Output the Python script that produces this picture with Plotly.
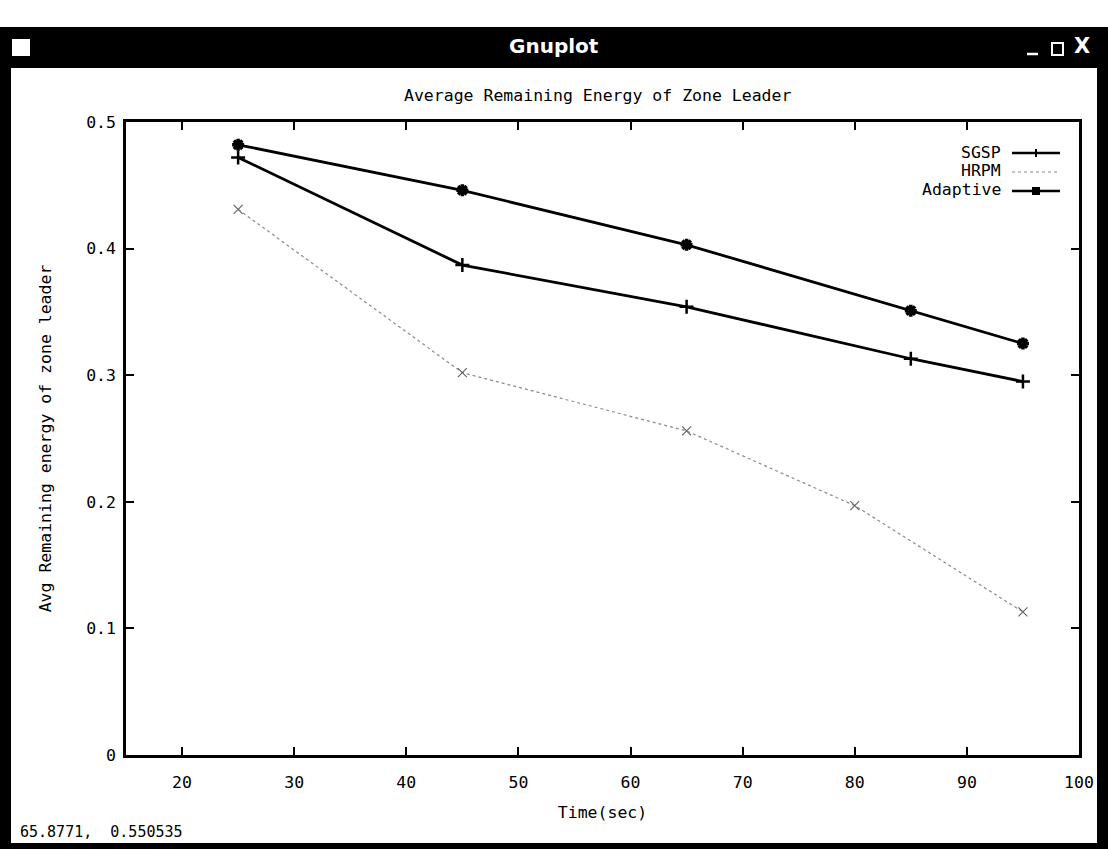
import plotly.graph_objects as go

# Time stamps (sec) and average remaining energy of the zone leader
time_sgsp = [25, 45, 65, 85, 95]
energy_sgsp = [0.472, 0.387, 0.354, 0.313, 0.295]

time_hrpm = [25, 45, 65, 80, 95]
energy_hrpm = [0.431, 0.302, 0.256, 0.197, 0.113]

time_adaptive = [25, 45, 65, 85, 95]
energy_adaptive = [0.482, 0.446, 0.403, 0.351, 0.325]

x_ticks = [20, 30, 40, 50, 60, 70, 80, 90, 100]
y_ticks = [0, 0.1, 0.2, 0.3, 0.4, 0.5]
y_tick_text = ["0", "0.1", "0.2", "0.3", "0.4", "0.5"]

W, H = 1108, 849
ML, MR, MT, MB = 126, 29, 122, 94
PW, PH = W - ML - MR, H - MT - MB
FONT = "DejaVu Sans Mono"
FS = 16.5


def px(x):
    return (x - ML) / PW


def py(y):
    return 1 - (y - MT) / PH


def label(text, x, y, size=FS, anchor="center", color="black", family=FONT):
    return dict(text=text, xref="paper", yref="paper", x=px(x), y=py(y),
                xanchor=anchor, yanchor="middle", showarrow=False,
                font=dict(family=family, size=size, color=color))


fig = go.Figure()

fig.add_trace(go.Scatter(
    x=time_sgsp, y=energy_sgsp, mode="lines+markers", name="SGSP",
    line=dict(color="black", width=2.8),
    marker=dict(symbol="cross-thin", size=10, line=dict(color="black", width=2.5)),
))
fig.add_trace(go.Scatter(
    x=time_hrpm, y=energy_hrpm, mode="lines+markers", name="HRPM",
    line=dict(color="#8a8a8a", width=1.2, dash="dot"),
    marker=dict(symbol="x-thin", size=9, line=dict(color="#666666", width=1.2)),
))
fig.add_trace(go.Scatter(
    x=time_adaptive, y=energy_adaptive, mode="lines+markers", name="Adaptive",
    line=dict(color="black", width=2.8),
    marker=dict(symbol="asterisk", size=10, line=dict(color="black", width=3.5)),
))

shapes = []
annotations = []

# Window chrome: title bar and frame
shapes.append(dict(type="rect", xref="paper", yref="paper", x0=px(0), x1=px(W),
                   y0=py(68), y1=py(27), fillcolor="black", line=dict(width=0), layer="below"))
shapes.append(dict(type="rect", xref="paper", yref="paper", x0=px(0), x1=px(11),
                   y0=py(H), y1=py(27), fillcolor="black", line=dict(width=0)))
shapes.append(dict(type="rect", xref="paper", yref="paper", x0=px(1097), x1=px(W),
                   y0=py(H), y1=py(27), fillcolor="black", line=dict(width=0)))
shapes.append(dict(type="rect", xref="paper", yref="paper", x0=px(0), x1=px(W),
                   y0=py(H), y1=py(843), fillcolor="black", line=dict(width=0)))
# title bar icon and buttons
shapes.append(dict(type="rect", xref="paper", yref="paper", x0=px(12), x1=px(30),
                   y0=py(56), y1=py(39), fillcolor="white", line=dict(width=0)))
shapes.append(dict(type="rect", xref="paper", yref="paper", x0=px(1052), x1=px(1063),
                   y0=py(55), y1=py(43), fillcolor="black", line=dict(color="white", width=2)))
shapes.append(dict(type="line", xref="paper", yref="paper", x0=px(1027), x1=px(1038),
                   y0=py(54), y1=py(54), line=dict(color="white", width=2.5)))

annotations.append(label("<b>Gnuplot</b>", 554, 46, size=20, color="white", family="DejaVu Sans"))
annotations.append(label("<b>X</b>", 1082, 46, size=21, color="white", family="DejaVu Sans"))

# Chart title and status line
annotations.append(label("Average Remaining Energy of Zone Leader", 597, 96))
annotations.append(label("65.8771,  0.550535", 18, 832, size=15, anchor="left"))

# Key: labels on the left, line samples on the right
for text, yy in [("SGSP", 152), ("HRPM", 171), ("Adaptive", 190)]:
    annotations.append(label(text, 1003, yy, anchor="right"))
shapes.append(dict(type="line", xref="paper", yref="paper", x0=px(1012), x1=px(1060),
                   y0=py(153), y1=py(153), line=dict(color="black", width=2.4)))
shapes.append(dict(type="line", xref="paper", yref="paper", x0=px(1036), x1=px(1036),
                   y0=py(149), y1=py(157), line=dict(color="black", width=2)))
shapes.append(dict(type="line", xref="paper", yref="paper", x0=px(1012), x1=px(1060),
                   y0=py(172), y1=py(172), line=dict(color="#8a8a8a", width=1.2, dash="dot")))
shapes.append(dict(type="line", xref="paper", yref="paper", x0=px(1012), x1=px(1060),
                   y0=py(191), y1=py(191), line=dict(color="black", width=2.4)))
shapes.append(dict(type="rect", xref="paper", yref="paper", x0=px(1032), x1=px(1040),
                   y0=py(195), y1=py(187), fillcolor="black", line=dict(width=0)))

fig.update_layout(
    width=W, height=H,
    margin=dict(l=ML, r=MR, t=MT, b=MB, pad=0),
    paper_bgcolor="white", plot_bgcolor="white",
    showlegend=False,
    shapes=shapes, annotations=annotations,
    font=dict(family=FONT, color="black"),
    xaxis=dict(
        range=[15, 100], tickvals=x_ticks, ticks="inside", ticklen=8, tickwidth=2,
        showline=True, linecolor="black", linewidth=2.5, mirror="ticks",
        showgrid=False, zeroline=False, tickcolor="black", ticklabelstandoff=10,
        tickfont=dict(family=FONT, size=FS, color="black"),
        title=dict(text="Time(sec)", font=dict(family=FONT, size=FS, color="black"), standoff=16),
    ),
    yaxis=dict(
        range=[0, 0.5], tickvals=y_ticks, ticktext=y_tick_text, ticks="inside", ticklen=8,
        tickwidth=2, showline=True, linecolor="black", linewidth=2.5, mirror="ticks",
        showgrid=False, zeroline=False, tickcolor="black", ticklabelstandoff=4,
        tickfont=dict(family=FONT, size=FS, color="black"),
        title=dict(text="Avg Remaining energy of zone leader",
                   font=dict(family=FONT, size=FS, color="black"), standoff=31),
    ),
)

fig.write_html("out.html")
